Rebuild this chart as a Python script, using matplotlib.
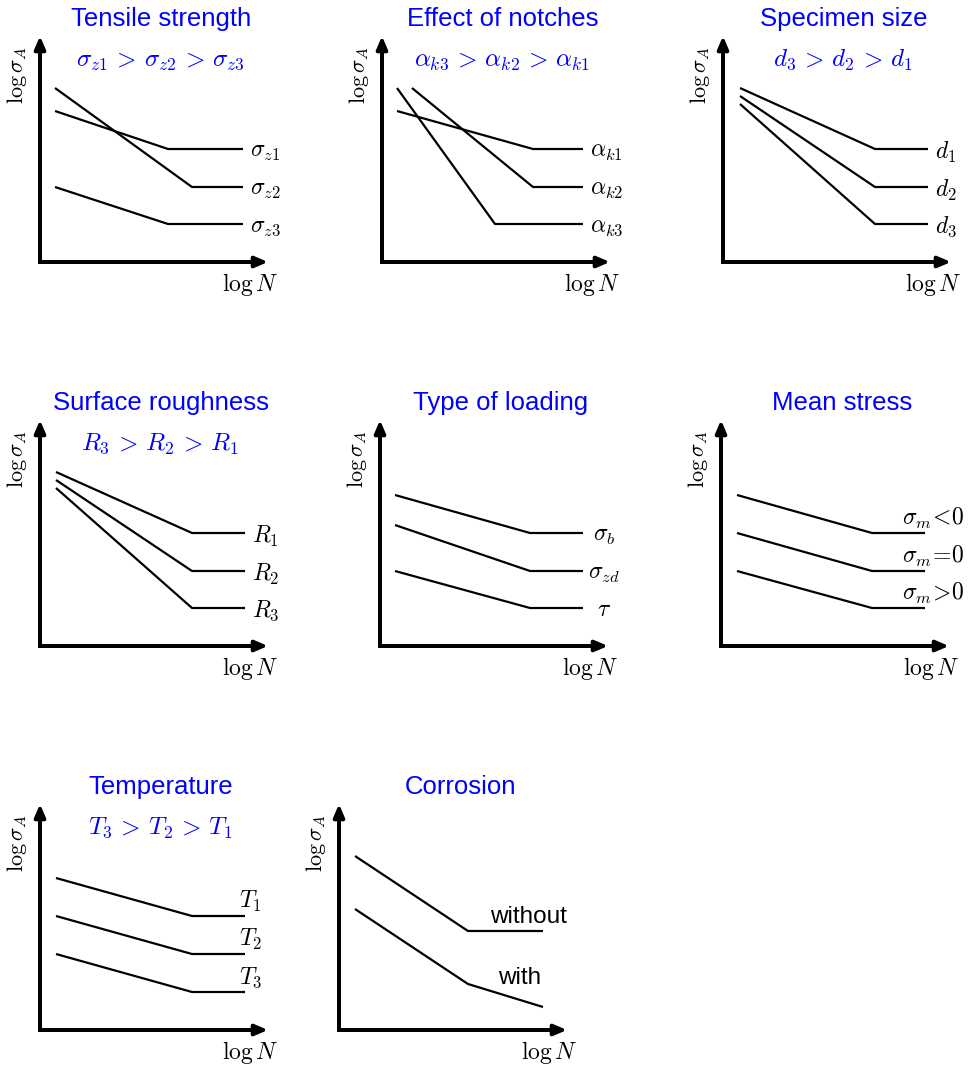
import matplotlib
matplotlib.use("Agg")
import matplotlib.pyplot as plt

plt.rcParams['mathtext.fontset'] = 'cm'
plt.rcParams['font.family'] = ['Liberation Sans', 'DejaVu Sans']

# ---------------- data (relative units) ----------------
titles = ["Tensile strength", "Effect of notches", "Specimen size",
          "Surface roughness", "Type of loading", "Mean stress",
          "Temperature", "Corrosion"]
conditions = [r"$\sigma_{z1} \,>\, \sigma_{z2} \,>\, \sigma_{z3}$",
              r"$\alpha_{k3} \,>\, \alpha_{k2} \,>\, \alpha_{k1}$",
              r"$d_3 \,>\, d_2 \,>\, d_1$",
              r"$R_3 \,>\, R_2 \,>\, R_1$",
              None, None,
              r"$T_3 \,>\, T_2 \,>\, T_1$",
              None]

tensile_labels = [r"$\sigma_{z1}$", r"$\sigma_{z2}$", r"$\sigma_{z3}$"]
tensile_x = [[15, 128, 203], [15, 152, 203], [15, 128, 203]]
tensile_y = [[151, 113, 113], [174, 75, 75], [75, 38, 38]]

notch_labels = [r"$\alpha_{k1}$", r"$\alpha_{k2}$", r"$\alpha_{k3}$"]
notch_x = [[15, 151, 201], [30, 151, 201], [15, 113, 201]]
notch_y = [[151, 113, 113], [174, 75, 75], [174, 38, 38]]

size_labels = [r"$d_1$", r"$d_2$", r"$d_3$"]
size_x = [[17, 152, 205], [17, 152, 205], [17, 152, 205]]
size_y = [[174, 113, 113], [166, 75, 75], [158, 38, 38]]

rough_labels = [r"$R_1$", r"$R_2$", r"$R_3$"]
rough_x = [[16, 152, 205], [16, 152, 205], [16, 152, 205]]
rough_y = [[174, 113, 113], [166, 75, 75], [158, 38, 38]]

load_labels = [r"$\sigma_b$", r"$\sigma_{zd}$", r"$\tau$"]
load_x = [[15, 150, 203], [15, 150, 203], [15, 150, 203]]
load_y = [[151, 113, 113], [121, 75, 75], [75, 38, 38]]

mean_labels = [r"$\sigma_m\!<\!0$", r"$\sigma_m\!=\!0$", r"$\sigma_m\!>\!0$"]
mean_x = [[16, 151, 204], [16, 151, 204], [16, 151, 204]]
mean_y = [[151, 113, 113], [113, 75, 75], [75, 38, 38]]

temp_labels = [r"$T_1$", r"$T_2$", r"$T_3$"]
temp_x = [[16, 152, 205], [16, 152, 205], [16, 152, 205]]
temp_y = [[152, 114, 114], [114, 76, 76], [76, 38, 38]]

corr_labels = ["without", "with"]
corr_x = [[16, 129, 204], [16, 129, 204]]
corr_y = [[174, 99, 99], [121, 46, 23]]

# ---------------- layout ----------------
W, H = 969, 1066
fig = plt.figure(figsize=(W / 100, H / 100), dpi=100)

origins = [(40, 262), (382, 262), (723, 262),
           (40, 646), (380, 646), (721, 646),
           (40, 1030), (339, 1030)]

PAD_L, PAD_R, PAD_B, PAD_T = 45, 255, 45, 265


def make_axes(ox, oy):
    left = (ox - PAD_L) / W
    bottom = (H - oy - PAD_B) / H
    ax = fig.add_axes([left, bottom, (PAD_L + PAD_R) / W, (PAD_B + PAD_T) / H])
    ax.set_xlim(-PAD_L, PAD_R)
    ax.set_ylim(-PAD_B, PAD_T)
    ax.axis('off')
    return ax


def draw_axes(ax):
    xt, yt = 228, 226
    ax.plot([0, 0, xt - 8], [yt - 8, 0, 0], color='black', lw=2.8,
            solid_joinstyle='miter', solid_capstyle='butt')
    for tip in [(xt, 0), (0, yt)]:
        ax.annotate('', xy=tip, xytext=(0, 0),
                    arrowprops=dict(arrowstyle='-|>,head_length=0.75,head_width=0.32',
                                    lw=2.8, color='black', shrinkA=0, shrinkB=0))
    ax.text(-23, 187, r"$\log\sigma_A$", rotation=90, ha='center', va='center',
            fontsize=16)
    ax.text(210, -22, r"$\log N$", ha='center', va='center', fontsize=17)


def draw_lines(ax, xs, ys):
    for x, y in zip(xs, ys):
        ax.plot(x, y, color='black', lw=1.6, solid_capstyle='butt')


panels = [
    (tensile_x, tensile_y, tensile_labels),
    (notch_x, notch_y, notch_labels),
    (size_x, size_y, size_labels),
    (rough_x, rough_y, rough_labels),
    (load_x, load_y, load_labels),
    (mean_x, mean_y, mean_labels),
    (temp_x, temp_y, temp_labels),
    (corr_x, corr_y, corr_labels),
]

for i, ((ox, oy), (xs, ys, labs)) in enumerate(zip(origins, panels)):
    ax = make_axes(ox, oy)
    draw_axes(ax)
    draw_lines(ax, xs, ys)
    ax.text(121, 243, titles[i], ha='center', va='center', fontsize=18.5,
            color='blue')
    if conditions[i]:
        ax.text(120, 202, conditions[i], ha='center', va='center',
                fontsize=18, color='blue')
    # curve labels
    for x, y, lab in zip(xs, ys, labs):
        if i in (0, 1, 2, 3):
            ax.text(x[-1] + 7, y[-1], lab, ha='left', va='center_baseline',
                    fontsize=17)
        elif i == 4:
            ax.text(x[-1] + 21, y[-1], lab, ha='center', va='center_baseline',
                    fontsize=17)
        elif i == 5:
            ax.text(x[-1] + 39, y[-1] + 2, lab, ha='right', va='bottom',
                    fontsize=17)
        elif i == 6:
            ax.text(x[-1] - 6, y[-1] + 2, lab, ha='left', va='bottom',
                    fontsize=17)
    if i == 7:
        ax.text(189, 113, corr_labels[0], ha='center', va='center', fontsize=17.5)
        ax.text(181, 52, corr_labels[1], ha='center', va='center', fontsize=17.5)

fig.savefig("out.png", dpi=100)
